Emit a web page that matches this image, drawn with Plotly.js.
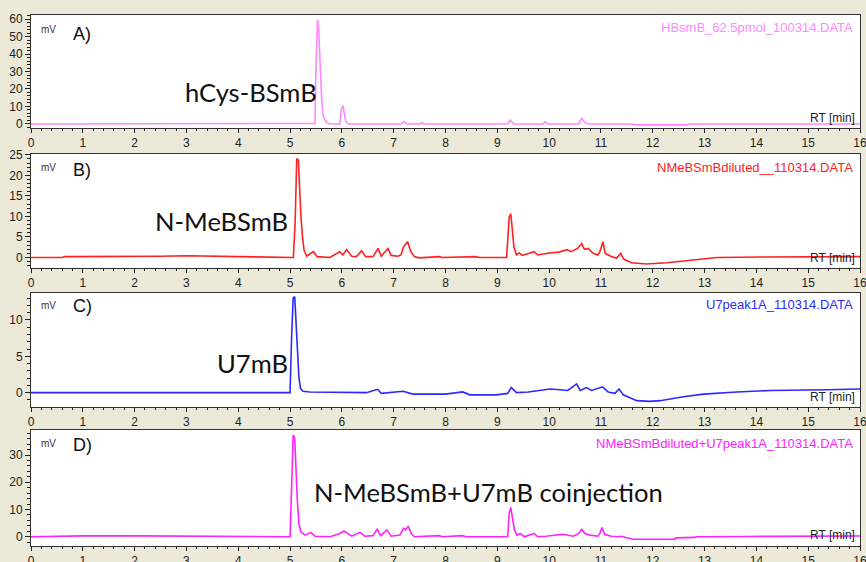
<!DOCTYPE html>
<html>
<head>
<meta charset="utf-8">
<script src="https://cdn.plot.ly/plotly-3.0.1.min.js"></script>
<style>
html,body{margin:0;padding:0;background:#ECE9D8;}
#chart{width:866px;height:562px;}
</style>
</head>
<body>
<div id="chart"></div>
<script>
// ---- Data (retention time in min, signal in mV) ----
var tA = [0, 2.0, 4.0, 5.45, 5.48, 5.50, 5.53, 5.55, 5.57, 5.59, 5.61, 5.64, 5.70, 5.77, 5.96, 5.99, 6.02, 6.04, 6.07, 6.12, 7.15, 7.20, 7.26, 7.50, 7.54, 7.58, 9.20, 9.25, 9.32, 9.88, 9.92, 9.97, 10.57, 10.63, 10.68, 10.75, 11.60, 11.65, 12.65, 12.70, 16];
var vA = [0, 0, 0, 0, 0.3, 33, 59.7, 55.9, 40.7, 29.3, 14, 4.5, 0.9, 0, 0, 8.3, 10.6, 7.3, 2.2, 0, 0, 1.4, 0, 0, 0.7, 0, 0, 2.2, 0, 0, 1.2, 0, 0, 3.5, 1.0, 0, 0, -0.5, -0.5, 0, 0];

var tB = [0, 0.6, 0.65, 1.8, 1.9, 2.5, 3.0, 3.5, 4.5, 5.0, 5.064, 5.097, 5.129, 5.16, 5.18, 5.21, 5.24, 5.27, 5.32, 5.45, 5.52, 5.77, 5.96, 6.02, 6.09, 6.19, 6.28, 6.38, 6.46, 6.60, 6.70, 6.76, 6.89, 6.95, 7.08, 7.14, 7.19, 7.27, 7.33, 7.40, 7.49, 7.88, 7.94, 8.58, 8.65, 9.18, 9.23, 9.26, 9.29, 9.32, 9.37, 9.42, 9.48, 9.71, 9.78, 10.0, 10.19, 10.35, 10.42, 10.55, 10.63, 10.68, 10.75, 10.85, 10.94, 10.98, 11.04, 11.08, 11.17, 11.30, 11.38, 11.44, 11.59, 11.88, 12.27, 12.66, 12.98, 13.24, 14.08, 16];
var vB = [0, 0, 0.2, 0.2, 0.3, 0.3, 0.4, 0.3, 0.2, 0.1, 0, 8.3, 24.1, 23.7, 16.4, 9.9, 5.0, 1.8, 0.3, 1.4, 0.2, 0, 1.4, 0.6, 1.9, 0.3, 0.2, 1.6, 0.2, 0.2, 2.2, 0.3, 2.2, 0.5, 0.3, 0.6, 2.6, 3.8, 1.4, 0.2, -0.1, 0.2, 0, 0.2, 0, 0, 9.9, 10.6, 6.7, 2.6, 0.6, 1.1, 0.5, 1.4, 0.6, 1.1, 1.3, 1.9, 1.4, 2.2, 3.4, 2.0, 2.2, 1.0, 0.6, 1.4, 3.8, 1.0, 0.4, -0.2, 1.0, -0.4, -1.3, -1.6, -1.3, -0.8, -0.4, 0, 0.1, 0.2];

var tC = [0, 1.0, 1.4, 3.0, 4.5, 4.98, 5.0, 5.03, 5.06, 5.09, 5.11, 5.14, 5.17, 5.20, 5.25, 5.38, 6.47, 6.69, 6.76, 7.18, 7.37, 8.0, 8.33, 8.47, 8.98, 9.20, 9.27, 9.37, 9.6, 10.02, 10.21, 10.36, 10.53, 10.6, 10.72, 10.82, 11.03, 11.14, 11.27, 11.35, 11.43, 11.69, 11.94, 12.14, 12.59, 12.98, 13.62, 14.27, 15.37, 16];
var vC = [0, 0, 0.1, 0.1, 0, 0, 0, 7.7, 13.0, 13.2, 10.9, 6.3, 2.2, 0.6, 0.2, 0.1, 0, 0.46, -0.1, 0.2, -0.2, -0.2, 0.1, -0.3, -0.3, -0.1, 0.7, 0, 0.1, 0.5, 0.4, 0.3, 1.2, 0.3, 0.7, 0.3, 0.8, 0.1, -0.1, 0.5, -0.3, -1.1, -1.2, -1.1, -0.55, -0.2, 0.1, 0.3, 0.4, 0.5];

var tD = [0, 1.0, 2.0, 4.6, 5.0, 5.03, 5.06, 5.09, 5.11, 5.14, 5.17, 5.21, 5.29, 5.40, 5.48, 5.77, 5.96, 6.04, 6.19, 6.35, 6.44, 6.60, 6.68, 6.75, 6.87, 6.95, 7.12, 7.19, 7.23, 7.28, 7.34, 7.40, 7.88, 7.94, 8.33, 8.40, 9.20, 9.23, 9.26, 9.29, 9.33, 9.38, 9.44, 9.52, 9.71, 9.78, 9.94, 10.26, 10.39, 10.47, 10.57, 10.63, 10.69, 10.79, 10.94, 10.98, 11.02, 11.07, 11.20, 11.33, 11.39, 11.49, 11.62, 12.42, 12.45, 12.81, 12.84, 13.8, 16];
var vD = [0, 0.3, 0.3, 0, 0, 18.4, 37.4, 36.2, 24.5, 13.5, 4.9, 1.8, 0.6, 1.6, 0.2, 0, 1.2, 2.1, 0.2, 1.6, 0.2, 0.4, 2.7, 0.4, 2.5, 0.2, 0.6, 3.1, 2.5, 3.9, 1.2, 0, 0.4, 0, 0.4, 0, 0, 8.6, 10.8, 6.7, 2.5, 0.6, 1.2, 0, 1.2, 0, 0.2, 0.9, 0.6, 0.2, 1.2, 2.7, 1.2, 0.6, 0.2, 1.2, 3.4, 0.9, 0.2, 0, 0.2, -0.4, -0.9, -0.9, -0.4, -0.25, 0, 0.1, 0.25];

var panelLetters = ["A)", "B)", "C)", "D)"];
var compoundLabels = ["hCys-BSmB", "N-MeBSmB", "U7mB", "N-MeBSmB+U7mB coinjection"];
var fileLabels = ["HBsmB_62.5pmol_100314.DATA", "NMeBSmBdiluted__110314.DATA", "U7peak1A_110314.DATA", "NMeBSmBdiluted+U7peak1A_110314.DATA"];
var unitLabel = "mV";
var xAxisLabel = "RT [min]";

// ---- Layout geometry ----
var W = 866, H = 562;
var colors = ["#FF88FF", "#FF2020", "#2A2AFF", "#FF22FF"];
var ts = [tA, tB, tC, tD], vs = [vA, vB, vC, vD];
// panel pixel boxes: [top, bottom]
var boxes = [[15, 128], [154, 267.7], [292.7, 406.7], [430, 546]];
var yRanges = [[-2.3, 62.3], [-2.5, 25.2], [-1.93, 13.75], [-3.4, 39.2]];
var yDticks = [10, 5, 5, 10];
var yMinor = [2, 1, 1, 2];
var xl = 31, xr = 860;

var traces = [];
var layout = {
  width: W, height: H,
  margin: {l: 0, r: 0, t: 0, b: 0, pad: 0},
  paper_bgcolor: "#ECE9D8",
  plot_bgcolor: "#FFFFFF",
  showlegend: false,
  annotations: [],
  font: {family: "Liberation Sans, Arial, sans-serif", size: 12, color: "#222"}
};

function px(x) { return x / W; }
function py(y) { return 1 - y / H; }

for (var i = 0; i < 4; i++) {
  var n = i === 0 ? "" : String(i + 1);
  traces.push({
    x: ts[i], y: vs[i], type: "scatter", mode: "lines",
    xaxis: "x" + n, yaxis: "y" + n,
    line: {color: colors[i], width: 1.6},
    hoverinfo: "skip"
  });
  layout["xaxis" + n] = {
    domain: [px(xl), px(xr)], anchor: "y" + n,
    range: [0, 16], tick0: 0, dtick: 1,
    ticks: "outside", ticklen: 4, tickcolor: "#222", tickwidth: 1,
    ticklabeloverflow: "allow",
    minor: {dtick: 0.2, ticks: "outside", ticklen: 2, tickcolor: "#222"},
    showline: true, linecolor: "#333", linewidth: 1, mirror: true,
    showgrid: false, zeroline: false,
    tickfont: {family: "Liberation Sans, Arial, sans-serif", size: 12, color: "#222"}
  };
  layout["yaxis" + n] = {
    domain: [py(boxes[i][1]), py(boxes[i][0])], anchor: "x" + n,
    range: yRanges[i], tick0: 0, dtick: yDticks[i],
    ticks: "outside", ticklen: 5, tickcolor: "#222", tickwidth: 1,
    minor: {dtick: yMinor[i], ticks: "outside", ticklen: 3, tickcolor: "#222"},
    showline: true, linecolor: "#333", linewidth: 1, mirror: true,
    showgrid: false, zeroline: false,
    tickfont: {family: "Liberation Sans, Arial, sans-serif", size: 12, color: "#222"}
  };
}

// annotation pixel positions
var mvY = [29.5, 167, 305, 443];
var letterY = [33.5, 169.7, 305.8, 444.5];
var compX = [183, 153, 215, 312];
var compY = [92, 221, 363, 492];
var fileY = [28, 167, 304, 443];
var rtY = [118, 258, 397, 535];

for (var j = 0; j < 4; j++) {
  layout.annotations.push({
    xref: "paper", yref: "paper", x: px(39), y: py(mvY[j]), xanchor: "left", yanchor: "middle",
    text: unitLabel, showarrow: false, font: {size: 10, color: "#333"}
  });
  layout.annotations.push({
    xref: "paper", yref: "paper", x: px(71), y: py(letterY[j]), xanchor: "left", yanchor: "middle",
    text: panelLetters[j], showarrow: false, font: {size: 18, color: "#111"}
  });
  layout.annotations.push({
    xref: "paper", yref: "paper", x: px(compX[j]), y: py(compY[j]), xanchor: "left", yanchor: "middle",
    text: compoundLabels[j], showarrow: false, font: {family: "Lato, Open Sans, sans-serif", size: 25.6, color: "#111"}
  });
  layout.annotations.push({
    xref: "paper", yref: "paper", x: px(855), y: py(fileY[j]), xanchor: "right", yanchor: "middle",
    text: fileLabels[j], showarrow: false, font: {size: 13, color: colors[j]}
  });
  layout.annotations.push({
    xref: "paper", yref: "paper", x: px(857), y: py(rtY[j]), xanchor: "right", yanchor: "middle",
    text: xAxisLabel, showarrow: false, font: {size: 12, color: "#222"}
  });
}

Plotly.newPlot("chart", traces, layout, {staticPlot: true, displayModeBar: false});
</script>
</body>
</html>
